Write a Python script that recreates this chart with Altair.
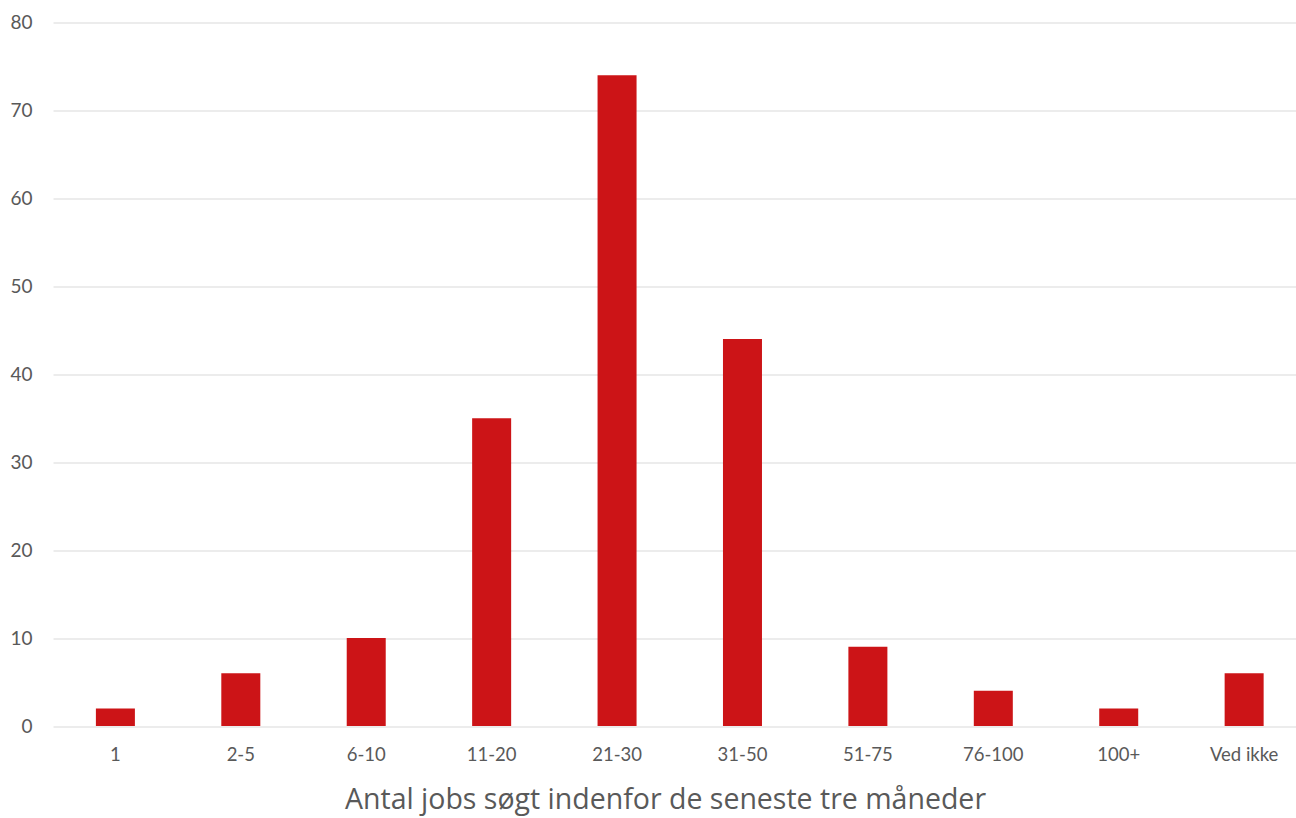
import altair as alt
import pandas as pd

categories = ["1", "2-5", "6-10", "11-20", "21-30", "31-50", "51-75", "76-100", "100+", "Ved ikke"]
values = [2, 6, 10, 35, 74, 44, 9, 4, 2, 6]

df = pd.DataFrame({"cat": categories, "val": values})

chart = alt.Chart(df).mark_bar(color="#CC1417").encode(
    x=alt.X("cat:N", sort=categories,
            scale=alt.Scale(paddingInner=0.689, paddingOuter=0.30, align=0.57),
            axis=alt.Axis(title="Antal jobs søgt indenfor de seneste tre måneder",
                          labelAngle=0, domain=False, ticks=False, grid=False,
                          labelPadding=19, labelFontSize=18.5, labelColor="#595959",
                          labelFont="Lato",
                          titleFontSize=28.5, titleFont="Open Sans", titleFontWeight="normal",
                          titleColor="#595959", titlePadding=22,
                          titleX=612, titleAlign="center")),
    y=alt.Y("val:Q", scale=alt.Scale(domain=[0, 80]),
            axis=alt.Axis(title=None, values=list(range(0, 81, 10)), domain=False, ticks=False,
                          grid=True, gridColor="#d9d9d9", gridWidth=1,
                          labelPadding=21, labelFontSize=19, labelColor="#595959",
                          labelFont="Lato")),
).properties(
    width=1243, height=703.5,
    autosize=alt.AutoSizeParams(type="none"),
    padding={"left": 53, "top": 22.5, "right": 0, "bottom": 92},
).configure_view(stroke=None)

chart.save("out.html", embed_options={"renderer": "svg", "actions": False})
